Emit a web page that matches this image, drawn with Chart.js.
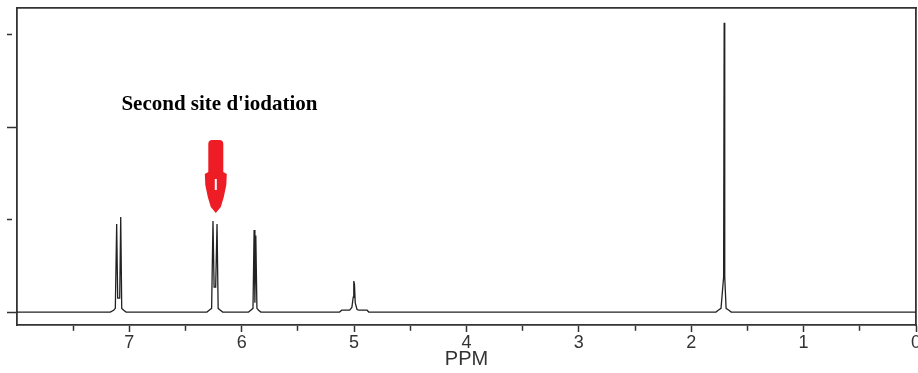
<!DOCTYPE html>
<html>
<head>
<meta charset="utf-8">
<title>Spectre RMN</title>
<script src="https://cdn.jsdelivr.net/npm/chart.js@4.4.1/dist/chart.umd.min.js"></script>
<style>
  html, body { margin: 0; padding: 0; background: #fff; }
  #wrap { width: 918px; height: 373px; }
</style>
</head>
<body>
<div id="wrap"><canvas id="nmr" width="918" height="373"></canvas></div>
<script>
// trace vertices, ppm running from 8 down to 0
const ppm = [
    8.0,
    7.17, 7.14, 7.125, 7.113, 7.104, 7.095, 7.086, 7.077, 7.068, 7.05, 7.03,
    6.31, 6.29, 6.268, 6.256, 6.246, 6.232, 6.22, 6.21, 6.19, 6.17,
    5.94, 5.92, 5.90, 5.89, 5.883, 5.875, 5.865, 5.85, 5.83,
    5.13, 5.11, 5.04, 5.02, 5.008, 5.003, 4.997, 4.99, 4.975, 4.96, 4.885, 4.87,
    1.78, 1.76, 1.735, 1.712, 1.707, 1.702, 1.69, 1.665, 1.645,
    0.0,
];
const intensity = [
    0,
    0, 0.02, 0.04, 0.953, 0.15, 0.15, 0.15, 1.029, 0.04, 0.02, 0,
    0, 0.02, 0.04, 0.986, 0.27, 0.27, 0.953, 0.04, 0.02, 0,
    0, 0.02, 0.04, 0.888, 0.10, 0.827, 0.04, 0.02, 0,
    0, 0.02, 0.02, 0.05, 0.16, 0.336, 0.30, 0.10, 0.03, 0.02, 0.02, 0,
    0, 0.02, 0.04, 0.38, 3.13, 0.38, 0.04, 0.02, 0,
    0,
];
const xTicks = [0, 0.5, 1, 1.5, 2, 2.5, 3, 3.5, 4, 4.5, 5, 5.5, 6, 6.5, 7, 7.5];
const yTicks = [0, 1, 2, 3];
const note = "Second site d'iodation";

const ink = "#333";
const sansFont = "'Liberation Sans', Arial, sans-serif";

const annotations = {
    id: "annotations",
    afterDraw(chart) {
        const { ctx } = chart;
        const { x, y } = chart.scales;
        ctx.save();

        ctx.font = "bold 21px 'Liberation Serif', 'Times New Roman', serif";
        ctx.fillStyle = "#000";
        ctx.textAlign = "left";
        ctx.textBaseline = "middle";
        ctx.fillText(note, x.getPixelForValue(7.071), y.getPixelForValue(2.25));

        // red block arrow pointing at the 6.24 ppm doublet
        const cx = x.getPixelForValue(6.231);
        const t = y.getPixelForValue(1.072);
        ctx.fillStyle = "#ee1c24";
        ctx.beginPath();
        ctx.moveTo(cx - 7.5, t - 69);
        ctx.quadraticCurveTo(cx - 7.5, t - 73, cx - 3.5, t - 73);
        ctx.lineTo(cx + 3.5, t - 73);
        ctx.quadraticCurveTo(cx + 7.5, t - 73, cx + 7.5, t - 69);
        ctx.lineTo(cx + 7.5, t - 41);
        ctx.lineTo(cx + 11, t - 39);
        ctx.lineTo(cx + 10.5, t - 28);
        ctx.lineTo(cx + 8, t - 16);
        ctx.lineTo(cx + 5, t - 6);
        ctx.lineTo(cx, t);
        ctx.lineTo(cx - 5, t - 6);
        ctx.lineTo(cx - 8, t - 16);
        ctx.lineTo(cx - 10.5, t - 28);
        ctx.lineTo(cx - 11, t - 39);
        ctx.lineTo(cx - 7.5, t - 41);
        ctx.closePath();
        ctx.fill();
        ctx.fillStyle = "#fff";
        ctx.fillRect(cx - 1, t - 34, 2, 11);

        ctx.restore();
    },
};

const minorDash = (ctx) => (Number.isInteger(ctx.tick.value) ? [] : [5, 30]);
const yMinorDash = (ctx) => (ctx.tick.value % 2 === 0 ? [] : [5, 30]);

new Chart(document.getElementById("nmr"), {
    type: "line",
    data: {
        datasets: [{
            data: ppm.map((p, i) => ({ x: p, y: intensity[i] })),
            borderColor: "#222",
            borderWidth: 1.3,
            pointRadius: 0,
            tension: 0,
            fill: false,
        }],
    },
    options: {
        responsive: false,
        animation: false,
        events: [],
        layout: { padding: { top: 8, right: 2, left: 0, bottom: 0 } },
        plugins: { legend: { display: false }, tooltip: { enabled: false } },
        scales: {
            x: {
                type: "linear",
                position: "bottom",
                reverse: true,
                min: 0,
                max: 8,
                afterBuildTicks: (s) => { s.ticks = xTicks.map((v) => ({ value: v })); },
                afterFit: (s) => { s.height = 48; s.paddingLeft = 0; s.paddingRight = 0; },
                ticks: {
                    autoSkip: false,
                    maxRotation: 0,
                    padding: 0,
                    color: ink,
                    font: { family: sansFont, size: 18 },
                    callback: (v) => (Number.isInteger(v) ? String(v) : ""),
                },
                grid: {
                    drawOnChartArea: false,
                    drawTicks: true,
                    tickLength: 7,
                    tickColor: ink,
                    tickWidth: 1.5,
                    tickBorderDash: minorDash,
                },
                border: { display: true, color: ink, width: 1.8 },
                title: {
                    display: true,
                    text: "PPM",
                    color: ink,
                    font: { family: sansFont, size: 20, lineHeight: 1.2 },
                    padding: { top: 0, bottom: 2 },
                },
            },
            y: {
                type: "linear",
                position: "left",
                min: -0.14,
                max: 3.29,
                afterBuildTicks: (s) => { s.ticks = yTicks.map((v) => ({ value: v })); },
                afterFit: (s) => { s.width = 17; s.paddingTop = 0; s.paddingBottom = 0; },
                ticks: { display: false },
                grid: {
                    drawOnChartArea: false,
                    drawTicks: true,
                    tickLength: 10,
                    tickColor: ink,
                    tickWidth: 1.5,
                    tickBorderDash: yMinorDash,
                },
                border: { display: true, color: ink, width: 1.8 },
            },
            xTop: {
                type: "linear",
                position: "top",
                min: 0,
                max: 8,
                ticks: { display: false },
                grid: { display: false, drawTicks: false },
                border: { display: true, color: ink, width: 1.8 },
            },
            yRight: {
                type: "linear",
                position: "right",
                min: -0.14,
                max: 3.29,
                ticks: { display: false },
                grid: { display: false, drawTicks: false },
                border: { display: true, color: ink, width: 1.8 },
            },
        },
    },
    plugins: [annotations],
});
</script>
</body>
</html>
